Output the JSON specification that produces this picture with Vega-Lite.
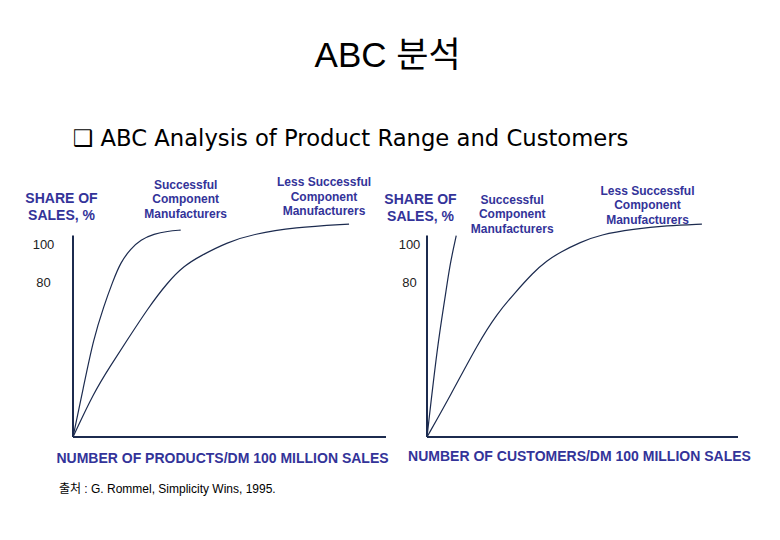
{
  "$schema": "https://vega.github.io/schema/vega-lite/v6.json",
  "padding": {"left": 24, "top": 39, "right": 0, "bottom": 0},
  "background": "white",
  "config": {"view": {"stroke": null}},
  "title": {"text": "ABC 분석", "anchor": "middle", "frame": "bounds", "fontSize": 35, "fontWeight": "normal", "font": "Liberation Sans, Noto Sans CJK KR", "color": "#000000", "offset": 54},
  "bounds": "flush",
  "spacing": 41,
  "hconcat": [
    {
      "width": 313,
      "height": 270,
      "encoding": {
        "x": {"field": "x", "type": "quantitative", "scale": {"domain": [0, 100], "nice": false, "zero": false},
          "axis": {"title": "NUMBER OF PRODUCTS/DM 100 MILLION SALES", "domain": false, "ticks": false, "labels": false, "grid": false, "titleX": 149, "titleY": 21, "titleAlign": "center", "titleBaseline": "middle", "titleFont": "Liberation Sans", "titleFontSize": 14, "titleFontWeight": "bold", "titleColor": "#333399"}},
        "y": {"field": "y", "type": "quantitative", "scale": {"domain": [0, 140], "nice": false, "zero": false},
          "axis": {"title": ["SHARE OF", "SALES, %"], "values": [80, 100], "domain": false, "ticks": false, "tickSize": 0, "grid": false, "labelPadding": 30, "labelAlign": "center", "labelBaseline": "middle", "labelFont": "Liberation Sans", "labelFontSize": 13, "labelColor": "#222222", "titleAngle": 0, "titleX": -12, "titleY": 31, "titleAlign": "center", "titleBaseline": "middle", "titleLineHeight": 17, "titleFont": "Liberation Sans", "titleFontSize": 14, "titleFontWeight": "bold", "titleColor": "#333399"}}
      },
      "layer": [
        {
          "data": {"values": [{"x": 0, "y": 0, "x2": 100, "y2": 0}, {"x": 0, "y": 0, "x2": 0, "y2": 104.5}]},
          "mark": {"type": "rule", "color": "#1c2b4f", "strokeWidth": 2},
          "encoding": {"x2": {"field": "x2"}, "y2": {"field": "y2"}}
        },
        {
          "data": {"values": [
            {"curve": "Successful", "x": 0, "y": 0},
            {"curve": "Successful", "x": 3.3, "y": 25.5},
            {"curve": "Successful", "x": 6.52, "y": 50.8},
            {"curve": "Successful", "x": 9.9, "y": 68.1},
            {"curve": "Successful", "x": 12.6, "y": 80.2},
            {"curve": "Successful", "x": 15.2, "y": 90.6},
            {"curve": "Successful", "x": 18.4, "y": 97.5},
            {"curve": "Successful", "x": 21.6, "y": 102.3},
            {"curve": "Successful", "x": 25.9, "y": 105.3},
            {"curve": "Successful", "x": 30.2, "y": 106.7},
            {"curve": "Successful", "x": 34.4, "y": 107.3},
            {"curve": "Less Successful", "x": 0, "y": 0},
            {"curve": "Less Successful", "x": 6.7, "y": 23.2},
            {"curve": "Less Successful", "x": 12, "y": 37},
            {"curve": "Less Successful", "x": 17.9, "y": 51.7},
            {"curve": "Less Successful", "x": 23.8, "y": 66.4},
            {"curve": "Less Successful", "x": 30.2, "y": 80.2},
            {"curve": "Less Successful", "x": 35.5, "y": 88.8},
            {"curve": "Less Successful", "x": 40.8, "y": 94},
            {"curve": "Less Successful", "x": 49.3, "y": 101},
            {"curve": "Less Successful", "x": 57.8, "y": 105.3},
            {"curve": "Less Successful", "x": 70.6, "y": 108.7},
            {"curve": "Less Successful", "x": 88.2, "y": 110.4}
          ]},
          "mark": {"type": "line", "color": "#1c2b4f", "strokeWidth": 1.2, "interpolate": "basis"},
          "encoding": {"detail": {"field": "curve"}}
        },
        {
          "data": {"values": [
            {"x": 36, "y": 130.7, "label": "Successful\nComponent\nManufacturers"},
            {"x": 80.2, "y": 132.1, "label": "Less Successful\nComponent\nManufacturers"}
          ]},
          "mark": {"type": "text", "lineBreak": "\n", "lineHeight": 14.5, "font": "Liberation Sans", "fontSize": 12, "fontWeight": "bold", "color": "#333399", "align": "center", "baseline": "middle"},
          "encoding": {"text": {"field": "label"}}
        },
        {
          "data": {"values": [{"x": 0, "y": 154.5, "note": "❑ ABC Analysis of Product Range and Customers"}]},
          "mark": {"type": "text", "font": "DejaVu Sans", "fontSize": 22.7, "color": "#000000", "align": "left", "baseline": "middle"},
          "encoding": {"text": {"field": "note"}}
        },
        {
          "data": {"values": [{"x": -4.5, "y": -27, "note": "출처 : G. Rommel, Simplicity Wins, 1995."}]},
          "mark": {"type": "text", "font": "Liberation Sans, Noto Sans CJK KR", "fontSize": 12, "color": "#000000", "align": "left", "baseline": "middle"},
          "encoding": {"text": {"field": "note"}}
        }
      ]
    },
    {
      "width": 311,
      "height": 270,
      "encoding": {
        "x": {"field": "x", "type": "quantitative", "scale": {"domain": [0, 100], "nice": false, "zero": false},
          "axis": {"title": "NUMBER OF CUSTOMERS/DM 100 MILLION SALES", "domain": false, "ticks": false, "labels": false, "grid": false, "titleX": 152, "titleY": 19, "titleAlign": "center", "titleBaseline": "middle", "titleFont": "Liberation Sans", "titleFontSize": 14, "titleFontWeight": "bold", "titleColor": "#333399"}},
        "y": {"field": "y", "type": "quantitative", "scale": {"domain": [0, 140], "nice": false, "zero": false},
          "axis": {"title": ["SHARE OF", "SALES, %"], "values": [80, 100], "domain": false, "ticks": false, "tickSize": 0, "grid": false, "labelPadding": 18, "labelAlign": "center", "labelBaseline": "middle", "labelFont": "Liberation Sans", "labelFontSize": 13, "labelColor": "#222222", "titleAngle": 0, "titleX": -7, "titleY": 32, "titleAlign": "center", "titleBaseline": "middle", "titleLineHeight": 17, "titleFont": "Liberation Sans", "titleFontSize": 14, "titleFontWeight": "bold", "titleColor": "#333399"}}
      },
      "layer": [
        {
          "data": {"values": [{"x": 0, "y": 0, "x2": 100, "y2": 0}, {"x": 0, "y": 0, "x2": 0, "y2": 104.5}]},
          "mark": {"type": "rule", "color": "#1c2b4f", "strokeWidth": 2},
          "encoding": {"x2": {"field": "x2"}, "y2": {"field": "y2"}}
        },
        {
          "data": {"values": [
            {"curve": "Successful", "x": 0, "y": 0},
            {"curve": "Successful", "x": 3.4, "y": 48},
            {"curve": "Successful", "x": 5.8, "y": 72},
            {"curve": "Successful", "x": 7.3, "y": 89},
            {"curve": "Successful", "x": 9.4, "y": 104.4},
            {"curve": "Less Successful", "x": 0, "y": 0},
            {"curve": "Less Successful", "x": 7.5, "y": 21.4},
            {"curve": "Less Successful", "x": 16.6, "y": 49.1},
            {"curve": "Less Successful", "x": 22.5, "y": 63.8},
            {"curve": "Less Successful", "x": 27.9, "y": 74.1},
            {"curve": "Less Successful", "x": 34.2, "y": 85.4},
            {"curve": "Less Successful", "x": 38.5, "y": 91.4},
            {"curve": "Less Successful", "x": 42.8, "y": 95.8},
            {"curve": "Less Successful", "x": 49.3, "y": 101},
            {"curve": "Less Successful", "x": 55.7, "y": 104.9},
            {"curve": "Less Successful", "x": 66.4, "y": 107.8},
            {"curve": "Less Successful", "x": 77.1, "y": 109.6},
            {"curve": "Less Successful", "x": 88.4, "y": 110.4}
          ]},
          "mark": {"type": "line", "color": "#1c2b4f", "strokeWidth": 1.2, "interpolate": "basis"},
          "encoding": {"detail": {"field": "curve"}}
        },
        {
          "data": {"values": [
            {"x": 27.4, "y": 123.0, "label": "Successful\nComponent\nManufacturers"},
            {"x": 70.9, "y": 127.7, "label": "Less Successful\nComponent\nManufacturers"}
          ]},
          "mark": {"type": "text", "lineBreak": "\n", "lineHeight": 14.5, "font": "Liberation Sans", "fontSize": 12, "fontWeight": "bold", "color": "#333399", "align": "center", "baseline": "middle"},
          "encoding": {"text": {"field": "label"}}
        }
      ]
    }
  ]
}
